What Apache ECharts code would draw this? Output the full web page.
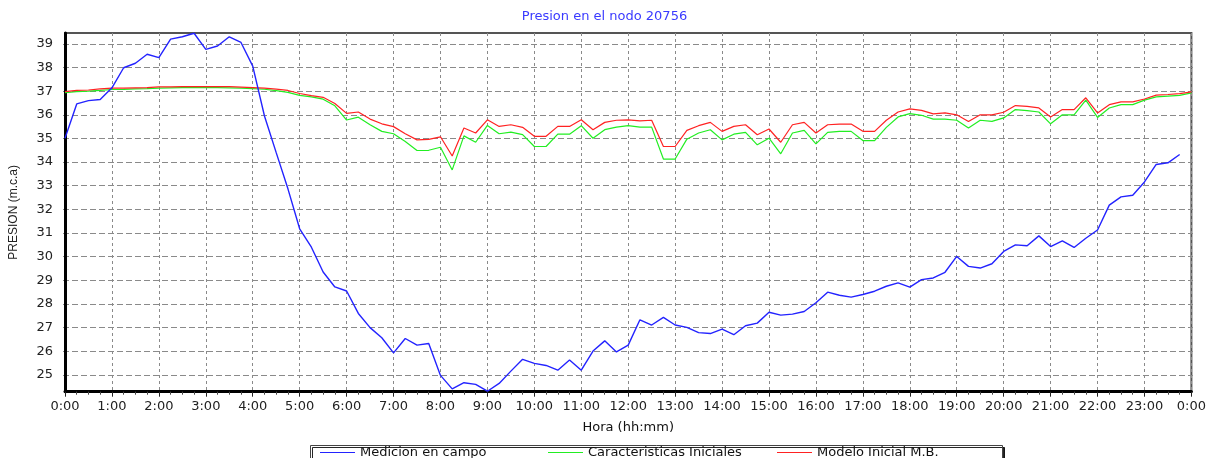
<!DOCTYPE html>
<html>
<head>
<meta charset="utf-8">
<script src="https://cdn.jsdelivr.net/npm/echarts@6/dist/echarts.min.js"></script>
<style>
html, body { margin: 0; padding: 0; background: #fff; }
#chart { width: 1209px; height: 458px; }
</style>
</head>
<body>
<div id="chart"></div>
<script>
// una lectura cada 15 minutos, desde 0:00
var STEP_MIN = 15;

var seriesNames = ["Medicion en campo", "Caracteristicas Iniciales", "Modelo Inicial M.B."];

// 0:00 .. 23:45
var medicionCampo = [
  35.01, 36.46, 36.60, 36.65,
  37.14, 37.99, 38.18, 38.56,
  38.42, 39.20, 39.30, 39.45,
  38.77, 38.91, 39.30, 39.06,
  38.06, 35.95, 34.40, 32.87,
  31.18, 30.40, 29.35, 28.72,
  28.55, 27.60, 27.00, 26.57,
  25.93, 26.54, 26.26, 26.33,
  24.98, 24.41, 24.67, 24.60,
  24.31, 24.64, 25.16, 25.66,
  25.49, 25.40, 25.20, 25.63,
  25.20, 26.01, 26.44, 25.97,
  26.26, 27.33, 27.11, 27.43,
  27.11, 27.01, 26.79, 26.75,
  26.94, 26.70, 27.08, 27.19,
  27.65, 27.53, 27.57, 27.68,
  28.05, 28.50, 28.37, 28.29,
  28.40, 28.54, 28.75, 28.89,
  28.71, 29.03, 29.10, 29.34,
  30.01, 29.59, 29.52, 29.70,
  30.22, 30.50, 30.46, 30.88,
  30.43, 30.67, 30.39, 30.78,
  31.13, 32.18, 32.53, 32.60,
  33.16, 33.90, 33.97, 34.32
];

// 0:00 .. 24:00
var caracteristicasIniciales = [
  36.94, 36.98, 37.00, 37.03,
  37.07, 37.08, 37.10, 37.11,
  37.13, 37.14, 37.15, 37.15,
  37.15, 37.15, 37.14, 37.13,
  37.11, 37.08, 37.02, 36.95,
  36.82, 36.76, 36.66, 36.38,
  35.78, 35.90, 35.58, 35.30,
  35.20, 34.87, 34.49, 34.50,
  34.63, 33.67, 35.11, 34.84,
  35.55, 35.20, 35.27, 35.16,
  34.66, 34.66, 35.18, 35.18,
  35.54, 35.01, 35.37, 35.48,
  35.54, 35.48, 35.48, 34.13,
  34.13, 34.97, 35.23, 35.37,
  34.94, 35.18, 35.26, 34.73,
  35.01, 34.35, 35.23, 35.34,
  34.77, 35.26, 35.30, 35.30,
  34.91, 34.91, 35.47, 35.91,
  36.05, 35.98, 35.82, 35.82,
  35.77, 35.44, 35.77, 35.72,
  35.87, 36.22, 36.18, 36.12,
  35.62, 36.00, 36.00, 36.62,
  35.89, 36.29, 36.43, 36.43,
  36.62, 36.76, 36.79, 36.82,
  36.93
];

// 0:00 .. 24:00
var modeloInicial = [
  36.98, 37.03, 37.05, 37.10,
  37.13, 37.13, 37.14, 37.15,
  37.18, 37.18, 37.19, 37.19,
  37.19, 37.19, 37.19, 37.17,
  37.15, 37.13, 37.09, 37.03,
  36.90, 36.81, 36.74, 36.48,
  36.06, 36.12, 35.82, 35.62,
  35.50, 35.20, 34.94, 34.96,
  35.07, 34.26, 35.44, 35.23,
  35.79, 35.51, 35.58, 35.47,
  35.09, 35.09, 35.51, 35.51,
  35.79, 35.37, 35.68, 35.77,
  35.79, 35.74, 35.77, 34.66,
  34.66, 35.34, 35.54, 35.68,
  35.30, 35.51, 35.58, 35.16,
  35.40, 34.84, 35.58, 35.68,
  35.23, 35.58, 35.61, 35.61,
  35.30, 35.30, 35.77, 36.12,
  36.25, 36.19, 36.04, 36.08,
  36.00, 35.72, 36.00, 36.00,
  36.11, 36.39, 36.36, 36.29,
  35.91, 36.22, 36.22, 36.72,
  36.08, 36.43, 36.55, 36.55,
  36.67, 36.83, 36.86, 36.90,
  36.97
];

// eje y: rango visible y rango de las marcas enteras
var Y_MIN = 24.29, Y_MAX = 39.46;
var TICK_MIN = 24, TICK_MAX = 40;

var GRID_LEFT = 63, GRID_RIGHT = 16, GRID_TOP = 33, GRID_H = 358.7;
var pxPerUnit = GRID_H / (Y_MAX - Y_MIN);

// posicion de cada entrada de la leyenda
var LEGEND_LEFTS = [320, 548, 777];

function toPairs(arr) {
  return arr.map(function (v, i) { return [i * STEP_MIN, v]; });
}

var hFont = "DejaVu Sans";

var legends = seriesNames.map(function (name, i) {
  return {
    data: [name],
    left: LEGEND_LEFTS[i],
    top: 446,
    icon: "rect",
    itemWidth: 35,
    itemHeight: 1,
    padding: 0,
    selectedMode: false,
    textStyle: { color: "#111", fontSize: 13, fontFamily: hFont }
  };
});

var chart = echarts.init(document.getElementById("chart"));
chart.setOption({
  animation: false,
  backgroundColor: "#fff",
  title: {
    text: "Presion en el nodo 20756",
    left: "center",
    top: 10,
    padding: 0,
    textStyle: { color: "#3a3aff", fontSize: 13, fontWeight: "normal", fontFamily: hFont }
  },
  // marco de la leyenda
  graphic: [{
    type: "rect",
    left: 310,
    top: 445,
    z: 1,
    shape: { width: 692, height: 30 },
    style: {
      fill: "#fff", stroke: "#444", lineWidth: 1,
      shadowColor: "rgba(0,0,0,0.85)", shadowOffsetX: 2, shadowOffsetY: 2, shadowBlur: 0
    }
  }],
  legend: legends,
  grid: [
    {
      left: GRID_LEFT, right: GRID_RIGHT, top: GRID_TOP, height: GRID_H,
      show: true, borderColor: "#555", borderWidth: 2
    },
    {
      // grid auxiliar solo para las marcas enteras del eje y
      left: GRID_LEFT, right: GRID_RIGHT,
      top: GRID_TOP - (TICK_MAX - Y_MAX) * pxPerUnit,
      height: (TICK_MAX - TICK_MIN) * pxPerUnit,
      show: false
    }
  ],
  xAxis: [
    {
      type: "value",
      gridIndex: 0,
      min: 0,
      max: 1440,
      interval: 60,
      name: "Hora (hh:mm)",
      nameLocation: "middle",
      nameGap: 29,
      nameTextStyle: { color: "#111", fontSize: 13, fontFamily: hFont },
      axisLine: { onZero: false, lineStyle: { color: "#000", width: 3 } },
      axisTick: { length: 5, lineStyle: { color: "#222" } },
      minorTick: { show: true, splitNumber: 4, length: 3, lineStyle: { color: "#444" } },
      axisLabel: {
        margin: 8,
        color: "#222",
        fontSize: 13,
        fontFamily: hFont,
        formatter: function (v) { return ((v / 60) % 24) + ":00"; }
      },
      splitLine: { show: true, lineStyle: { color: "#8a8a8a", type: [3, 3], width: 1 } }
    },
    {
      type: "value",
      gridIndex: 1,
      min: 0,
      max: 1440,
      show: false
    }
  ],
  yAxis: [
    {
      type: "value",
      gridIndex: 0,
      min: Y_MIN,
      max: Y_MAX,
      name: "PRESION (m.c.a)",
      nameLocation: "middle",
      nameGap: 45,
      nameTextStyle: { color: "#222", fontSize: 12, fontFamily: "Liberation Sans" },
      axisLine: { show: true, lineStyle: { color: "#000", width: 3 } },
      axisTick: { show: false },
      axisLabel: { show: false },
      splitLine: { show: false }
    },
    {
      type: "value",
      gridIndex: 1,
      min: TICK_MIN,
      max: TICK_MAX,
      interval: 1,
      axisLine: { show: false },
      axisTick: { show: false },
      axisLabel: {
        margin: 10,
        color: "#222",
        fontSize: 13,
        fontFamily: hFont,
        formatter: function (v) { return (v === TICK_MIN || v === TICK_MAX) ? "" : String(v); }
      },
      splitLine: {
        show: true,
        showMinLine: false,
        showMaxLine: false,
        lineStyle: { color: "#8a8a8a", type: [6, 3], width: 1 }
      }
    }
  ],
  series: [
    {
      name: seriesNames[0],
      type: "line",
      xAxisIndex: 0,
      yAxisIndex: 0,
      symbol: "none",
      z: 4,
      color: "#2323ff",
      lineStyle: { color: "#2323ff", width: 1.4 },
      data: toPairs(medicionCampo)
    },
    {
      name: seriesNames[1],
      type: "line",
      xAxisIndex: 0,
      yAxisIndex: 0,
      symbol: "none",
      z: 2,
      color: "#22ee22",
      lineStyle: { color: "#22ee22", width: 1.2 },
      data: toPairs(caracteristicasIniciales)
    },
    {
      name: seriesNames[2],
      type: "line",
      xAxisIndex: 0,
      yAxisIndex: 0,
      symbol: "none",
      z: 3,
      color: "#ff2222",
      lineStyle: { color: "#ff2222", width: 1.2 },
      data: toPairs(modeloInicial)
    }
  ]
});
</script>
</body>
</html>
